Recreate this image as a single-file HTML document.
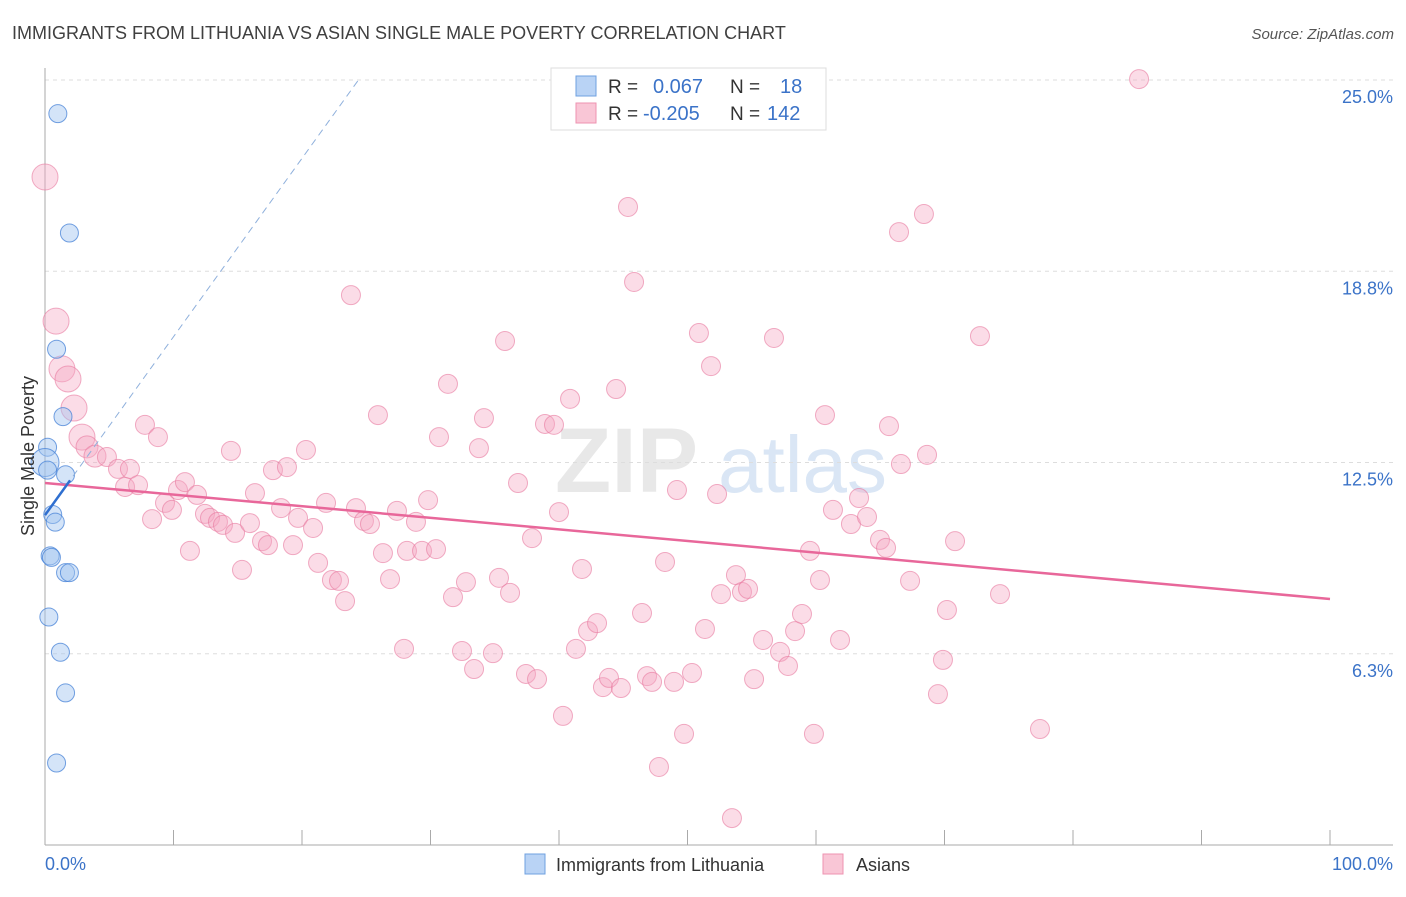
<!DOCTYPE html>
<html><head><meta charset="utf-8"><style>
body{margin:0;background:#fff;font-family:"Liberation Sans",sans-serif;}
svg text{font-family:"Liberation Sans",sans-serif;}
</style></head><body>
<svg id="chart" width="1406" height="892" viewBox="0 0 1406 892" xmlns="http://www.w3.org/2000/svg">
<text x="12" y="39" font-size="18" fill="#404040">IMMIGRANTS FROM LITHUANIA VS ASIAN SINGLE MALE POVERTY CORRELATION CHART</text>
<text x="1394" y="39" font-size="15" fill="#555" text-anchor="end" font-style="italic">Source: ZipAtlas.com</text>
<g opacity="0.55">
<text x="555" y="492" font-size="92" fill="#d6d6d6" font-family="Liberation Serif" font-weight="bold">ZIP</text>
<text x="718" y="492" font-size="80" fill="#bcd3ee">atlas</text>
</g>
<g id="grid"></g>
<g id="axes"></g>
<g id="pink"></g>
<g id="blue"></g>
<g id="trends"></g>
<text transform="translate(34,456) rotate(-90)" font-size="18" fill="#333" text-anchor="middle">Single Male Poverty</text>
<g>
<rect x="551" y="68" width="275" height="62" fill="#fff" stroke="#ddd"/>
<rect x="576" y="76" width="20" height="20" fill="#b9d3f5" stroke="#6fa0e0"/>
<rect x="576" y="103" width="20" height="20" fill="#f9c6d6" stroke="#ee93b0"/>
<text x="608" y="93" font-size="19" fill="#333">R =</text><text x="653" y="93" font-size="20" fill="#3b73c8">0.067</text>
<text x="730" y="93" font-size="19" fill="#333">N =</text><text x="780" y="93" font-size="20" fill="#3b73c8">18</text>
<text x="608" y="120" font-size="19" fill="#333">R =</text><text x="643" y="120" font-size="20" fill="#3b73c8">-0.205</text>
<text x="730" y="120" font-size="19" fill="#333">N =</text><text x="767" y="120" font-size="20" fill="#3b73c8">142</text>
</g>
<g>
<rect x="525" y="854" width="20" height="20" fill="#b9d3f5" stroke="#6fa0e0"/>
<text x="556" y="871" font-size="18" fill="#333">Immigrants from Lithuania</text>
<rect x="823" y="854" width="20" height="20" fill="#f9c6d6" stroke="#ee93b0"/>
<text x="856" y="871" font-size="18" fill="#333">Asians</text>
</g>
</svg>
<script>
const yTicks=[6.25,12.5,18.75,25];
const yTickLabels=["6.3%","12.5%","18.8%","25.0%"];
const xTickVals=[0,10,20,30,40,50,60,70,80,90,100];
const blueX=[1.0,1.9,0.9,1.4,0.2,0,0.2,1.6,0.6,0.8,0.4,0.5,1.6,1.9,0.3,1.2,1.6,0.9];
const blueY=[23.9,20.0,16.2,14.0,13.0,12.5,12.25,12.1,10.8,10.55,9.45,9.4,8.9,8.9,7.45,6.3,4.97,2.68];
const pinkPx=[[45,177],[56,321],[62,369],[68,379],[74,408],[82,437],[87,447],[95,456],[107,457],[118,469],[130,469],[125,487],[138,485],[145,425],[158,437],[152,519],[165,503],[172,510],[178,490],[185,482],[190,551],[197,495],[205,514],[210,518],[218,522],[223,525],[235,533],[231,451],[242,570],[250,523],[255,493],[262,541],[268,545],[273,470],[281,508],[287,467],[293,545],[298,518],[306,450],[313,528],[318,563],[326,503],[332,580],[339,581],[345,601],[351,295],[356,508],[364,521],[370,524],[378,415],[383,553],[390,579],[397,511],[404,649],[407,551],[416,522],[422,551],[428,500],[436,549],[439,437],[448,384],[453,597],[462,651],[466,582],[474,669],[479,448],[484,418],[493,653],[499,578],[505,341],[510,593],[518,483],[526,674],[532,538],[537,679],[545,424],[554,425],[559,512],[563,716],[570,399],[576,649],[582,569],[588,631],[597,623],[603,687],[609,678],[616,389],[621,688],[628,207],[634,282],[642,613],[647,676],[652,682],[659,767],[665,562],[674,682],[677,490],[684,734],[692,673],[699,333],[705,629],[711,366],[717,494],[721,594],[732,818],[736,575],[742,592],[748,589],[754,679],[763,640],[774,338],[780,652],[788,666],[795,631],[802,614],[810,551],[814,734],[820,580],[825,415],[833,510],[840,640],[851,524],[859,498],[867,517],[880,540],[886,548],[889,426],[899,232],[901,464],[910,581],[924,214],[927,455],[938,694],[943,660],[947,610],[955,541],[980,336],[1000,594],[1040,729],[1139,79]];
const pinkX=pinkPx.map(p=>+((p[0]-45)/12.85).toFixed(2));
const pinkY=pinkPx.map(p=>+((845-p[1])/30.6).toFixed(2));
const pinkTrend=[11.83,8.04];
const blueTrend=[10.78,0.583];
const NS="http://www.w3.org/2000/svg";
const X0=45,X1=1330,Y0=845,Y1=80;
const xs=v=>X0+(v/100)*(X1-X0);
const ys=v=>Y0-(v/25)*(Y0-Y1);
function mk(tag,at,parent){const e=document.createElementNS(NS,tag);for(const k in at)e.setAttribute(k,at[k]);parent.appendChild(e);return e;}
const grid=document.getElementById('grid'),axes=document.getElementById('axes');
yTicks.forEach((t,i)=>{
 const l=mk('line',{x1:X0,x2:1393,y1:ys(t),y2:ys(t),stroke:'#ddd','stroke-dasharray':'4 4'},grid);
 
 const tx=mk('text',{x:1393,y:ys(t)+23,'font-size':18,fill:'#3b73c8','text-anchor':'end'},axes);
 tx.textContent=yTickLabels[i];
 
});
mk('line',{x1:X0,x2:X0,y1:68,y2:Y0,stroke:'#aaa'},axes);
mk('line',{x1:X0,x2:1393,y1:Y0,y2:Y0,stroke:'#aaa'},axes);
xTickVals.forEach(v=>{const t=mk('line',{x1:xs(v),x2:xs(v),y1:Y0,y2:Y0-15,stroke:'#aaa'},axes);
 });
const xl0=mk('text',{x:45,y:870,'font-size':18,fill:'#3b73c8'},axes);xl0.textContent='0.0%';

const xl1=mk('text',{x:1393,y:870,'font-size':18,fill:'#3b73c8','text-anchor':'end'},axes);xl1.textContent='100.0%';

const pg=document.getElementById('pink');
pinkX.forEach((x,i)=>{const r=(x<3&&pinkY[i]>13)?13:(x<4?11:9.5);
 const c=mk('circle',{cx:xs(x),cy:ys(pinkY[i]),r:r,fill:'rgba(246,168,194,0.4)',stroke:'rgba(232,120,158,0.6)','stroke-width':1},pg);
 });
const bg=document.getElementById('blue');
blueX.forEach((x,i)=>{const r=(x===0)?14:9;
 const c=mk('circle',{cx:xs(x),cy:ys(blueY[i]),r:r,fill:'rgba(160,195,240,0.45)',stroke:'rgba(70,130,215,0.75)','stroke-width':1},bg);
 });
const tg=document.getElementById('trends');
const pt=mk('line',{x1:xs(0),y1:ys(pinkTrend[0]),x2:xs(100),y2:ys(pinkTrend[1]),stroke:'#e8679a','stroke-width':2.5},tg);

const bEnd=(25-blueTrend[0])/blueTrend[1];
const bd=mk('line',{x1:xs(0),y1:ys(blueTrend[0]),x2:xs(bEnd),y2:ys(25),stroke:'#8fb0dc','stroke-width':1,'stroke-dasharray':'7 5'},tg);

const bs=mk('line',{x1:xs(0),y1:ys(blueTrend[0]),x2:xs(1.95),y2:ys(blueTrend[0]+blueTrend[1]*1.95),stroke:'#2f6fd0','stroke-width':2.5},tg);

</script>
</body></html>
